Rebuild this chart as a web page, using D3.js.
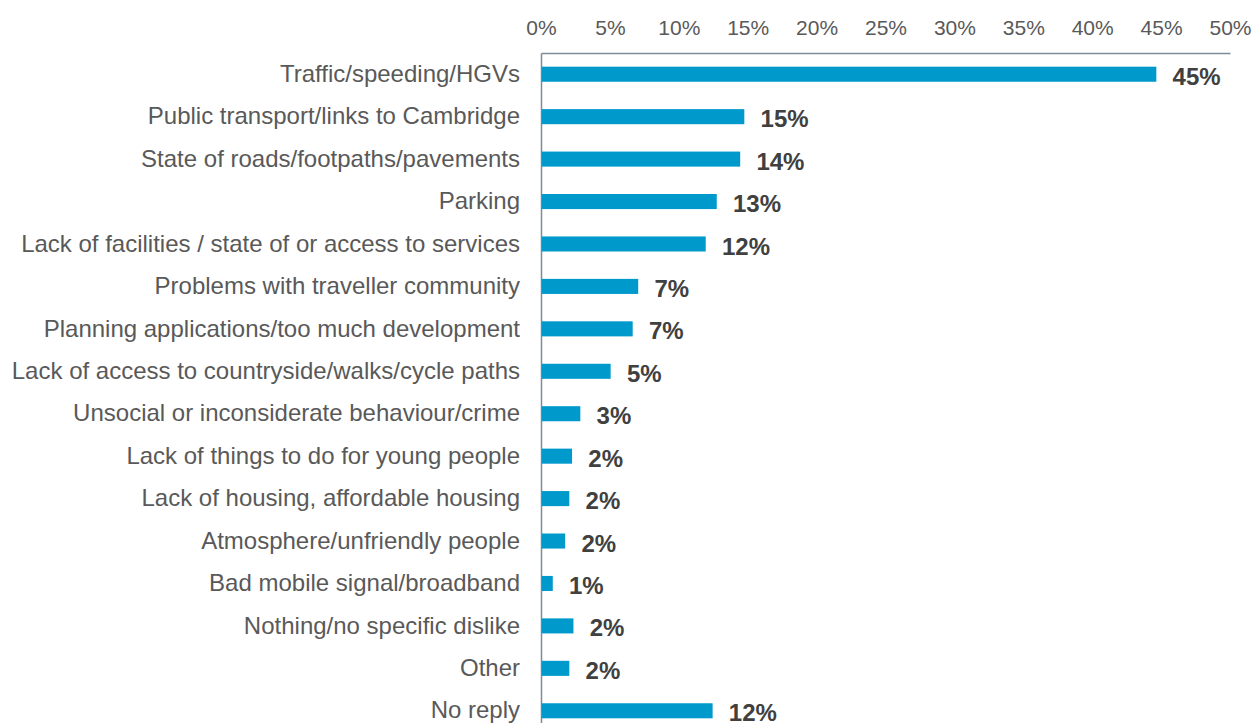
<!DOCTYPE html>
<html>
<head>
<meta charset="utf-8">
<script src="https://cdn.jsdelivr.net/npm/d3@7"></script>
<style>
  html, body { margin: 0; padding: 0; background: #fff; }
  svg { display: block; }
</style>
</head>
<body>
<svg id="chart" width="1253" height="723"></svg>
<script>
// Categories of dislike, top to bottom
const categories = [
  "Traffic/speeding/HGVs",
  "Public transport/links to Cambridge",
  "State of roads/footpaths/pavements",
  "Parking",
  "Lack of facilities / state of or access to services",
  "Problems with traveller community",
  "Planning applications/too much development",
  "Lack of access to countryside/walks/cycle paths",
  "Unsocial or inconsiderate behaviour/crime",
  "Lack of things to do for young people",
  "Lack of housing, affordable housing",
  "Atmosphere/unfriendly people",
  "Bad mobile signal/broadband",
  "Nothing/no specific dislike",
  "Other",
  "No reply"
];

// Share of respondents (fraction)
const shares = [
  0.446, 0.147, 0.144, 0.127, 0.119, 0.070, 0.066, 0.050,
  0.028, 0.022, 0.020, 0.017, 0.008, 0.023, 0.020, 0.124
];

// Axis ticks
const tickValues = [0, 0.05, 0.10, 0.15, 0.20, 0.25, 0.30, 0.35, 0.40, 0.45, 0.50];

const data = categories.map((c, i) => ({ category: c, value: shares[i] }));

const svg = d3.select("#chart");
const margin = { top: 53, left: 541 };
const plotWidth = 689;
const plotHeight = 679;

const x = d3.scaleLinear().domain([0, 0.5]).range([0, plotWidth]);
const y = d3.scaleBand().domain(categories).range([0, plotHeight]).paddingInner(0.645).paddingOuter(0.3225);

const g = svg.append("g").attr("transform", `translate(${margin.left},${margin.top})`);

const fmt = d3.format(".0%");

// Top axis with percentage labels
const xAxis = d3.axisTop(x).tickValues(tickValues).tickFormat(fmt).tickSize(0).tickPadding(18);
const gx = g.append("g").call(xAxis);
gx.select(".domain").attr("stroke", "#7d8b99").attr("stroke-width", 1.5);
gx.selectAll("text")
  .attr("font-family", "Liberation Sans, Arial, sans-serif")
  .attr("font-size", 21)
  .attr("fill", "#595959");

// Left category axis
const yAxis = d3.axisLeft(y).tickSize(0).tickPadding(21);
const gy = g.append("g").call(yAxis);
gy.select(".domain").attr("stroke", "#7d8b99").attr("stroke-width", 1.5);
gy.selectAll("text")
  .attr("font-family", "Liberation Sans, Arial, sans-serif")
  .attr("font-size", 24)
  .attr("fill", "#595959");

// Bars
g.selectAll("rect.bar")
  .data(data)
  .join("rect")
  .attr("class", "bar")
  .attr("x", 0.75)
  .attr("y", d => y(d.category))
  .attr("width", d => x(d.value))
  .attr("height", y.bandwidth())
  .attr("fill", "#0099cc");

// Value labels
g.selectAll("text.value")
  .data(data)
  .join("text")
  .attr("class", "value")
  .attr("x", d => x(d.value) + 17)
  .attr("y", d => y(d.category) + y.bandwidth() / 2)
  .attr("dy", "0.44em")
  .attr("font-family", "Liberation Sans, Arial, sans-serif")
  .attr("font-size", 24)
  .attr("font-weight", "bold")
  .attr("fill", "#404040")
  .text(d => fmt(d.value));
</script>
</body>
</html>
